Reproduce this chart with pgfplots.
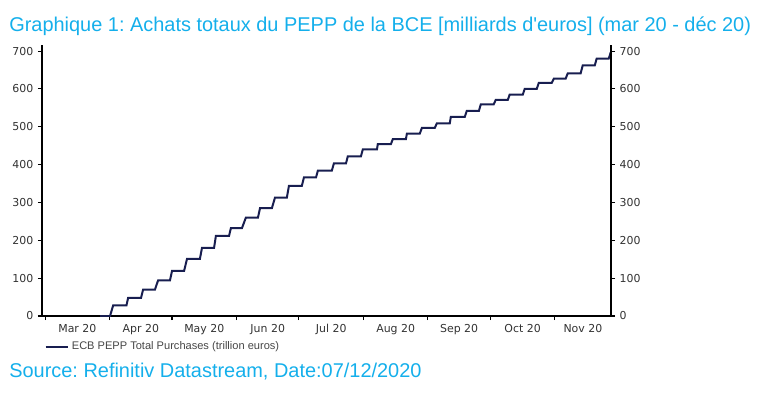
\documentclass[border=0pt]{standalone}
\usepackage{pgfplots}
\pgfplotsset{compat=1.18}
\usepackage{fontspec}
\setmainfont{Liberation Sans}
\newfontfamily\verd{DejaVu Sans}
\definecolor{titleblue}{RGB}{20,175,235}
\definecolor{navy}{RGB}{24,30,80}
\definecolor{tickgray}{RGB}{50,50,50}
\definecolor{leggray}{RGB}{70,70,70}
\frenchspacing
\begin{document}
\begin{tikzpicture}
\path[use as bounding box] (0,0) rectangle (571.5pt,294.75pt);
\begin{axis}[
  at={(31.5pt,57.75pt)}, anchor=south west,
  scale only axis, width=426.75pt, height=203.25pt,
  xmin=-1.5, xmax=272, ymin=0, ymax=716,
  axis x line*=bottom, axis y line*=left,
  axis line style={-, black, line width=0.9pt},
  tick align=outside,
  ytick={0,100,...,700},
  xtick={15.5,46,76.5,107,137.5,168.5,199,229.5,258.5},
  xticklabels={Mar 20,Apr 20,May 20,Jun 20,Jul 20,Aug 20,Sep 20,Oct 20,Nov 20},
  minor xtick={0,31,61,92,122,153,184,214,245},
  major x tick style={draw=none},
  minor x tick style={black, line width=0.8pt},
  minor tick length=3pt,
  major tick length=3pt,
  y tick style={black, line width=0.8pt},
  ticklabel style={font=\verd\fontsize{8.2}{10}\selectfont, text=tickgray},
  xticklabel style={text height=6.2pt, text depth=1.5pt},
  /pgf/number format/assume math mode=true,
  legend style={at={(0.004,-0.114)}, anchor=west, draw=none, fill=none, inner sep=0pt,
    font=\fontsize{8.3}{10}\selectfont, text=leggray},
  legend cell align=left,
  legend image code/.code={\draw[#1] (0pt,0pt) -- (17pt,0pt);},
]
\addplot[navy, line width=1.5pt] coordinates {
(26.4,0)(31.2,0)
(32.7,28)(39.1,28)
(39.9,48)(46.1,48)
(47.1,70)(52.8,70)
(54.3,94)(60.0,94)
(61.0,119)(66.8,119)
(68.2,151)(74.4,151)
(75.4,180)(81.2,180)
(82.1,212)(88.4,212)
(89.3,232)(94.6,232)
(96.5,260)(102.3,260)
(103.3,285)(109.0,285)
(110.5,313)(116.2,313)
(117.2,344)(123.4,344)
(124.4,366)(130.2,366)
(131.1,384)(137.8,384)
(138.8,403)(144.6,403)
(145.5,422)(151.8,422)
(152.7,440)(159.5,440)
(159.9,454)(166.2,454)
(167.1,467)(173.4,467)
(173.9,482)(180.1,482)
(181.1,497)(187.3,497)
(188.3,509)(194.5,509)
(195.0,526)(201.7,526)
(202.7,542)(208.5,542)
(209.4,559)(215.6,559)
(216.6,571)(222.4,571)
(223.3,585)(229.6,585)
(230.5,600)(236.3,600)
(237.3,616)(243.5,616)
(244.5,627)(250.2,627)
(251.2,641)(257.4,641)
(258.4,662)(264.2,662)
(265.1,680)(270.9,680)
(271.9,697)
};
\addlegendentry{ECB PEPP Total Purchases (trillion euros)}
\end{axis}
\begin{axis}[
  at={(31.5pt,57.75pt)}, anchor=south west,
  scale only axis, width=426.75pt, height=203.25pt,
  xmin=-1.5, xmax=272, ymin=0, ymax=716,
  axis y line*=right, axis x line=none,
  axis line style={-, black, line width=0.9pt},
  tick align=outside,
  ytick={0,100,...,700},
  major tick length=3pt,
  y tick style={black, line width=0.8pt},
  ticklabel style={font=\verd\fontsize{8.2}{10}\selectfont, text=tickgray},
  /pgf/number format/assume math mode=true,
]
\addplot[draw=none] coordinates {(0,0)};
\end{axis}
\node[anchor=base west, inner sep=0pt, text=titleblue, font=\fontsize{14.95}{17}\selectfont] at (6.8pt,271pt)
  {Graphique 1: Achats totaux du PEPP de la BCE [milliards d\textquotesingle euros] (mar 20 - déc 20)};
\node[anchor=base west, inner sep=0pt, text=titleblue, font=\fontsize{14.95}{17}\selectfont] at (6.8pt,11.8pt)
  {Source: Refinitiv Datastream, Date:07/12/2020};
\end{tikzpicture}
\end{document}
